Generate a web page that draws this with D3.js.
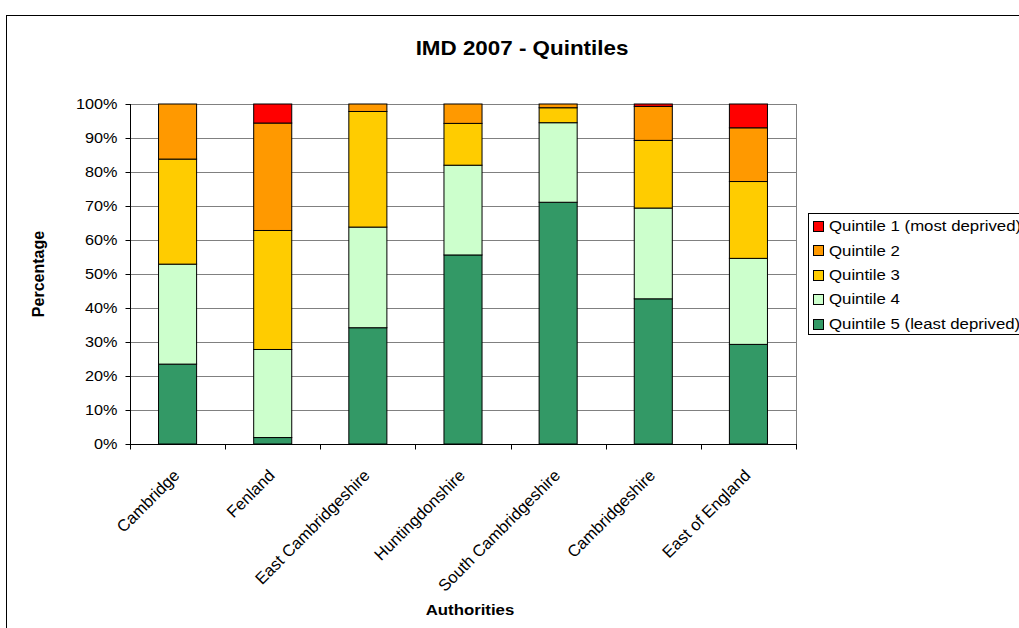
<!DOCTYPE html>
<html>
<head>
<meta charset="utf-8">
<script src="https://cdn.jsdelivr.net/npm/d3@7"></script>
<style>
  html, body { margin: 0; padding: 0; background: #fff; }
  svg { display: block; }
  text { font-family: "Liberation Sans", Arial, sans-serif; fill: #000; }
</style>
</head>
<body>
<svg id="chart" width="1019" height="628"></svg>
<script>
// Share of areas in each IMD 2007 quintile, by authority (percent)
const categories = ["Cambridge", "Fenland", "East Cambridgeshire", "Huntingdonshire",
                    "South Cambridgeshire", "Cambridgeshire", "East of England"];
const quintile5 = [23.5, 1.9, 34.2, 55.6, 71.1, 42.7, 29.3];
const quintile4 = [29.4, 25.9, 29.6, 26.4, 23.4, 26.7, 25.3];
const quintile3 = [30.9, 35.0, 34.0, 12.3, 4.4, 19.9, 22.6];
const quintile2 = [16.2, 31.6, 2.2, 5.7, 1.1, 10.0, 15.8];
const quintile1 = [0, 5.6, 0, 0, 0, 0.7, 7.0];

const seriesNames = ["Quintile 1 (most deprived)", "Quintile 2", "Quintile 3",
                     "Quintile 4", "Quintile 5 (least deprived)"];
const seriesKeys = ["q1", "q2", "q3", "q4", "q5"];
const seriesColors = ["#FF0000", "#FF9900", "#FFCC00", "#CCFFCC", "#339966"];
const yTicks = [0, 0.1, 0.2, 0.3, 0.4, 0.5, 0.6, 0.7, 0.8, 0.9, 1.0];

const rows = categories.map((c, i) => ({
  name: c, q1: quintile1[i], q2: quintile2[i], q3: quintile3[i], q4: quintile4[i], q5: quintile5[i]
}));

const svg = d3.select("#chart");
const SX = 1.12; // horizontal stretch applied to upright lettering

function label(g, x, y, str, opts = {}) {
  const sx = opts.sx != null ? opts.sx : SX;
  const t = g.append("text")
    .attr("transform", `translate(${x},${y}) scale(${sx},1)` + (opts.rotate ? ` rotate(${opts.rotate})` : ""))
    .attr("text-anchor", opts.anchor || "start")
    .style("font-size", (opts.size || 14) + "px")
    .style("font-weight", opts.bold ? "bold" : "normal")
    .text(str);
  if (opts.dy) t.attr("dy", opts.dy);
  return t;
}

// outer chart frame
svg.append("rect")
  .attr("x", 6.5).attr("y", 15.5).attr("width", 1100).attr("height", 700)
  .attr("fill", "#fff").attr("stroke", "#000").attr("stroke-width", 1);

const plot = { left: 130, right: 796, top: 104, bottom: 444 };

const x = d3.scaleBand()
  .domain(categories)
  .range([plot.left, plot.right])
  .paddingInner(0.6).paddingOuter(0.3);

const y = d3.scaleLinear().domain([0, 1]).range([plot.bottom, plot.top]);

// gridlines
svg.append("g").selectAll("line").data(yTicks.filter(d => d > 0)).join("line")
  .attr("x1", plot.left).attr("x2", plot.right)
  .attr("y1", d => Math.round(y(d)) + 0.5).attr("y2", d => Math.round(y(d)) + 0.5)
  .attr("stroke", "#808080").attr("stroke-width", 1);
svg.append("line")
  .attr("x1", plot.right + 0.5).attr("x2", plot.right + 0.5)
  .attr("y1", plot.top).attr("y2", plot.bottom)
  .attr("stroke", "#808080");

// stacked bars
const stack = d3.stack().keys(["q5", "q4", "q3", "q2", "q1"]);
const layers = stack(rows);
const colorOf = k => seriesColors[seriesKeys.indexOf(k)];

svg.append("g").selectAll("g").data(layers).join("g")
  .attr("fill", d => colorOf(d.key))
  .selectAll("rect").data(d => d.filter(s => s[1] - s[0] > 0)).join("rect")
  .attr("x", d => x(d.data.name))
  .attr("width", x.bandwidth())
  .attr("y", d => y(d[1] / 100))
  .attr("height", d => y(d[0] / 100) - y(d[1] / 100))
  .attr("stroke", "#000").attr("stroke-width", 1);

// y axis
const yAxis = svg.append("g").attr("transform", `translate(${plot.left + 0.5},0)`);
yAxis.append("line").attr("y1", plot.top).attr("y2", plot.bottom).attr("stroke", "#000");
yAxis.selectAll("line.tick").data(yTicks).join("line").attr("class", "tick")
  .attr("x1", -5).attr("x2", 0)
  .attr("y1", d => Math.round(y(d)) + 0.5).attr("y2", d => Math.round(y(d)) + 0.5)
  .attr("stroke", "#000");
const yFmt = d3.format(".0%");
yTicks.forEach(d => label(yAxis, -13, y(d), yFmt(d), { anchor: "end", size: 14.5, dy: "0.35em" }));

// x axis
const xAxis = svg.append("g").attr("transform", `translate(0,${plot.bottom + 0.5})`);
xAxis.append("line").attr("x1", plot.left).attr("x2", plot.right + 1).attr("stroke", "#000");
const step = x.step();
const boundaries = d3.range(categories.length + 1).map(i => plot.left + i * step);
xAxis.selectAll("line.tick").data(boundaries).join("line").attr("class", "tick")
  .attr("x1", d => Math.round(d) + 0.5).attr("x2", d => Math.round(d) + 0.5)
  .attr("y1", 0).attr("y2", 5).attr("stroke", "#000");
categories.forEach(c => {
  label(xAxis, x(c) + x.bandwidth() / 2 + 3, 32, c, { anchor: "end", size: 16.5, rotate: -45, sx: 1 });
});

// titles
label(svg, 522, 55, "IMD 2007 - Quintiles", { anchor: "middle", size: 20, bold: true });
label(svg, 44, 274, "Percentage", { anchor: "middle", size: 16, bold: true, rotate: -90, sx: 1 });
label(svg, 470, 615, "Authorities", { anchor: "middle", size: 15, bold: true });

// legend
const legend = svg.append("g");
legend.append("rect")
  .attr("x", 808.5).attr("y", 213.5).attr("width", 300).attr("height", 121)
  .attr("fill", "#fff").attr("stroke", "#000");
seriesNames.forEach((name, i) => {
  const cy = 226 + i * 24.4;
  legend.append("rect")
    .attr("x", 813.5).attr("y", Math.round(cy - 5) + 0.5).attr("width", 10).attr("height", 10)
    .attr("fill", seriesColors[i]).attr("stroke", "#000");
  label(legend, 829, cy, name, { size: 15, dy: "0.35em" });
});
</script>
</body>
</html>
